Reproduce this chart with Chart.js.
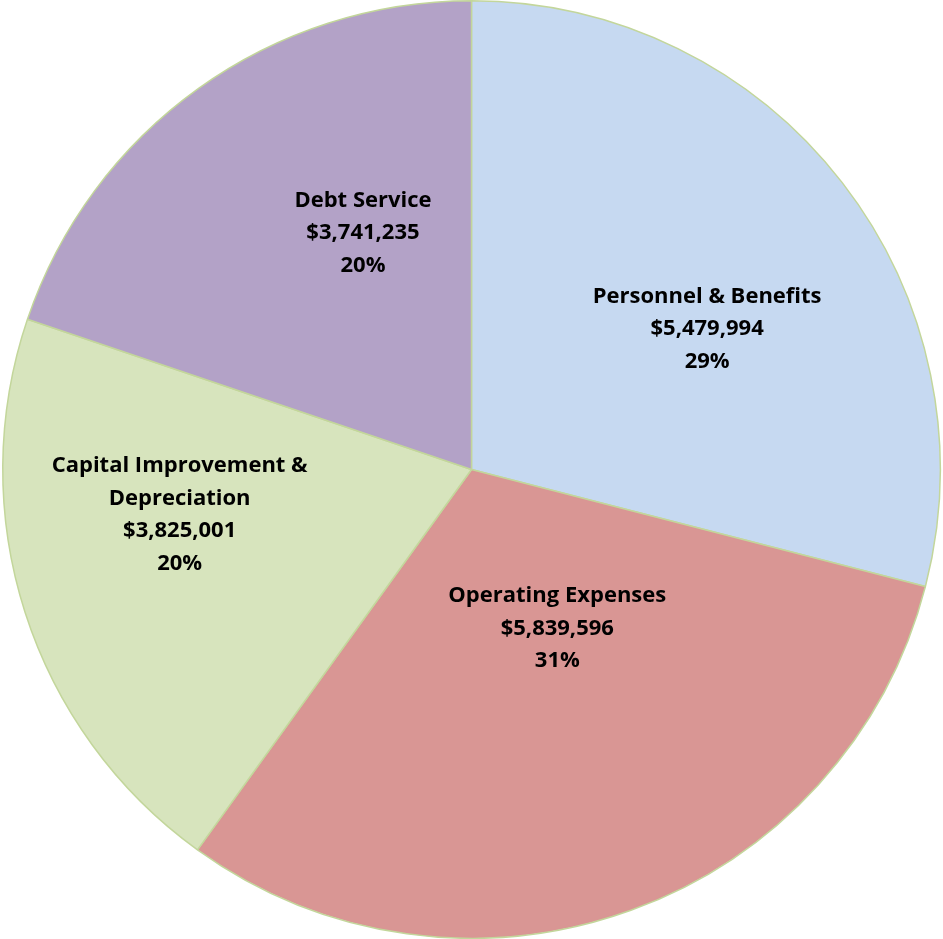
<!DOCTYPE html>
<html>
<head>
<meta charset="utf-8">
<script src="https://cdn.jsdelivr.net/npm/chart.js@4/dist/chart.umd.min.js"></script>
<style>
  html, body { margin: 0; padding: 0; background: #fff; }
  #wrap { width: 943px; height: 939px; }
</style>
</head>
<body>
<div id="wrap"><canvas id="budgetPie"></canvas></div>
<script>
// Budget data
const categories = [['Personnel & Benefits'], ['Operating Expenses'], ['Capital Improvement &', 'Depreciation'], ['Debt Service']];
const amounts = [5479994, 5839596, 3825001, 3741235];
const sliceColors = ['#C6D9F1', '#D99694', '#D7E4BD', '#B3A2C7'];

// where the labels sit inside each slice (fraction of radius, angle shift in degrees)
const labelRadius = [0.585, 0.385, 0.63, 0.555];
const labelShift = [7, -8.5, 9, 11];

const total = amounts.reduce((a, b) => a + b, 0);

const sliceLabels = {
  id: 'sliceLabels',
  afterDatasetsDraw(chart) {
    const ctx = chart.ctx;
    const meta = chart.getDatasetMeta(0);
    ctx.save();
    ctx.font = 'bold 22px "Open Sans", sans-serif';
    ctx.fillStyle = '#000';
    ctx.textAlign = 'center';
    ctx.textBaseline = 'middle';
    meta.data.forEach((arc, i) => {
      const mid = (arc.startAngle + arc.endAngle) / 2 + labelShift[i] * Math.PI / 180;
      const r = arc.outerRadius * labelRadius[i];
      const x = arc.x + Math.cos(mid) * r;
      const y = arc.y + Math.sin(mid) * r;
      const lines = categories[i].concat([
        '$' + amounts[i].toLocaleString('en-US'),
        Math.round(amounts[i] / total * 100) + '%'
      ]);
      const lh = 32.5;
      lines.forEach((t, k) => {
        ctx.fillText(t, x, y + (k - (lines.length - 1) / 2) * lh);
      });
    });
    ctx.restore();
  }
};

new Chart(document.getElementById('budgetPie'), {
  type: 'pie',
  data: {
    labels: categories.map(c => c.join(' ')),
    datasets: [{
      data: amounts,
      backgroundColor: sliceColors,
      borderColor: '#C3D69B',
      borderWidth: 1.5
    }]
  },
  options: {
    responsive: true,
    maintainAspectRatio: false,
    animation: false,
    layout: { padding: 0 },
    plugins: {
      legend: { display: false },
      tooltip: { enabled: false }
    }
  },
  plugins: [sliceLabels]
});
</script>
</body>
</html>
